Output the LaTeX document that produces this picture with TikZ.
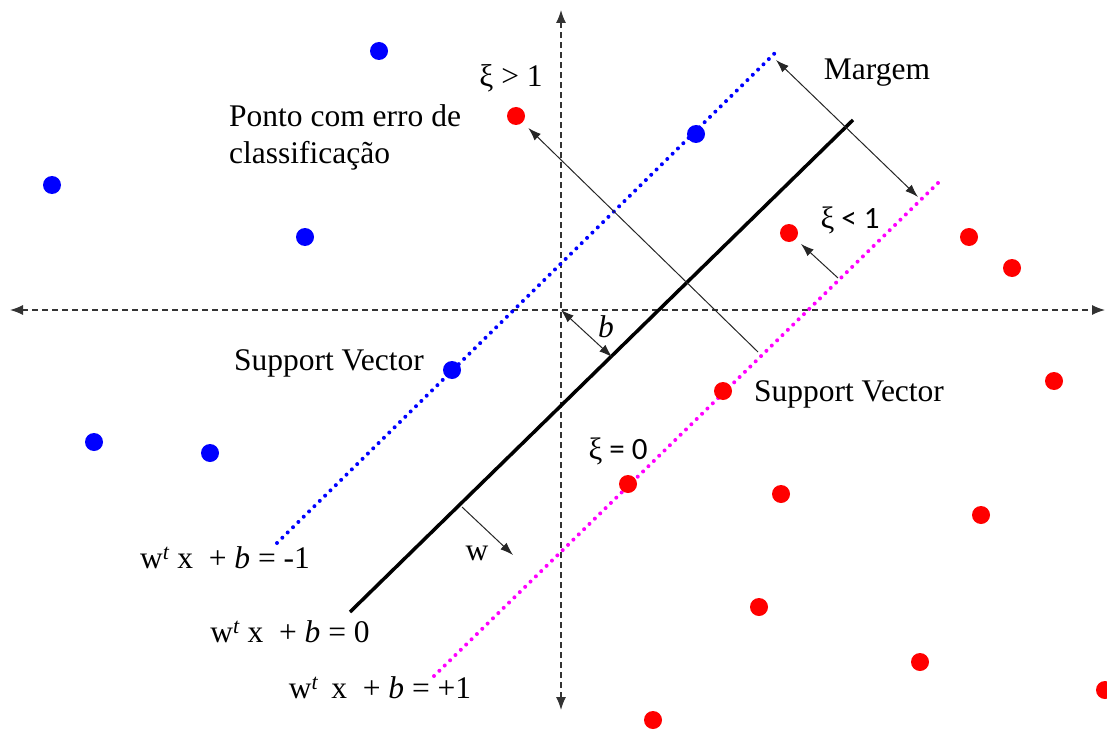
\documentclass[tikz,border=0pt]{standalone}
\usepackage{fontspec}
\setmainfont{Liberation Serif}
\newfontfamily\calib{Carlito}
\usetikzlibrary{arrows.meta}
\definecolor{magpure}{RGB}{255,0,255}
\definecolor{bluepure}{RGB}{0,0,255}
\definecolor{redpure}{RGB}{255,0,0}
\begin{document}
\begin{tikzpicture}[x=1pt,y=-1pt,
  bpt/.style={circle,fill=bluepure,inner sep=0pt,minimum size=18pt},
  rpt/.style={circle,fill=redpure,inner sep=0pt,minimum size=18pt},
  axisline/.style={line width=1.3pt,black!80,dash pattern=on 6pt off 4pt,
     {Latex[length=13pt,width=10pt]}-{Latex[length=13pt,width=10pt]}},
  dotline/.style={line width=4pt,line cap=round,dash pattern=on 0pt off 7.5pt},
  hyper/.style={line width=3.5pt,black},
  thinarrow/.style={line width=1pt,black!85,-{Latex[length=13pt,width=9pt]}},
  dblarrow/.style={line width=1pt,black!85,{Latex[length=13pt,width=9pt]}-{Latex[length=13pt,width=9pt]}},
  lbl/.style={font=\fontsize{31.5}{37}\selectfont,inner sep=0pt},
  slbl/.style={font=\calib\fontsize{31}{36}\selectfont,inner sep=0pt}
]
\clip (0,0) rectangle (1107,730);
\useasboundingbox (0,0) rectangle (1107,730);

% axes
\coordinate (xl) at (10,310);
\coordinate (xr) at (1105,310);
\coordinate (yt) at (561,10);
\coordinate (yb) at (561,710);
\coordinate (o) at (561,310);
\draw[axisline] (xl) -- (xr);
\draw[axisline] (yt) -- (yb);

% hyperplanes
\coordinate (bl1) at (277,543);
\coordinate (bl2) at (778,50);
\coordinate (hl1) at (350,612);
\coordinate (hl2) at (853,120);
\coordinate (ml1) at (434,676);
\coordinate (ml2) at (940,181);
\draw[dotline,bluepure] (bl1) -- (bl2);
\draw[dotline,magpure] (ml1) -- (ml2);
\draw[hyper] (hl1) -- (hl2);

% points
\node[bpt] (b1) at (379,51) {};
\node[bpt] (b2) at (696,134) {};
\node[bpt] (b3) at (52,185) {};
\node[bpt] (b4) at (305,237) {};
\node[bpt] (b5) at (452,370) {};
\node[bpt] (b6) at (94,442) {};
\node[bpt] (b7) at (210,453) {};

\node[rpt] (r1) at (516,116) {};
\node[rpt] (r2) at (789,233) {};
\node[rpt] (r3) at (969,237) {};
\node[rpt] (r4) at (1012,268) {};
\node[rpt] (r5) at (1054,381) {};
\node[rpt] (r6) at (723,391) {};
\node[rpt] (r7) at (628,484) {};
\node[rpt] (r8) at (781,494) {};
\node[rpt] (r9) at (981,515) {};
\node[rpt] (r10) at (759,607) {};
\node[rpt] (r11) at (920,662) {};
\node[rpt] (r12) at (1105,690) {};
\node[rpt] (r13) at (653,720) {};

% arrows
\coordinate (mg1) at (776,60);
\coordinate (mg2) at (918,197);
\draw[dblarrow] (mg1) -- (mg2);
\coordinate (pe) at (758,352);
\draw[thinarrow,shorten >=8pt] (pe) -- (r1);
\coordinate (xs) at (838,278);
\draw[thinarrow,shorten >=7pt] (xs) -- (r2);
\coordinate (bt) at (612,357);
\draw[dblarrow] (o) -- (bt);
\coordinate (ws) at (462,507);
\coordinate (wt) at (513,555);
\draw[thinarrow] (ws) -- (wt);

% labels
\node[lbl] (lxi1) at (511,78) {ξ > 1};
\node[lbl] (lmarg) at (877,73) {Margem};
\node[lbl,anchor=west,align=left] (lponto) at (229,137) {Ponto com erro de\\classificação};
\node[slbl] (lxi2) at (850,220) {{\fontspec{Liberation Serif}ξ} < 1};
\node[lbl] (lb) at (606,327) {\textit{b}};
\node[lbl] (lsv1) at (329,363) {Support Vector};
\node[lbl] (lsv2) at (849,394) {Support Vector};
\node[slbl] (lxi0) at (618,451) {{\fontspec{Liberation Serif}ξ} = 0};
\node[lbl] (lw) at (477,553) {w};
\node[lbl] (leq1) at (225,558) {w\textsuperscript{\itshape t} x\ \ + \textit{b} = -1};
\node[lbl] (leq0) at (290,632) {w\textsuperscript{\itshape t} x\ \ + \textit{b} = 0};
\node[lbl] (leq2) at (380,688) {w\textsuperscript{\itshape t}\ \,x\ \ + \textit{b} = +1};
\end{tikzpicture}
\end{document}
